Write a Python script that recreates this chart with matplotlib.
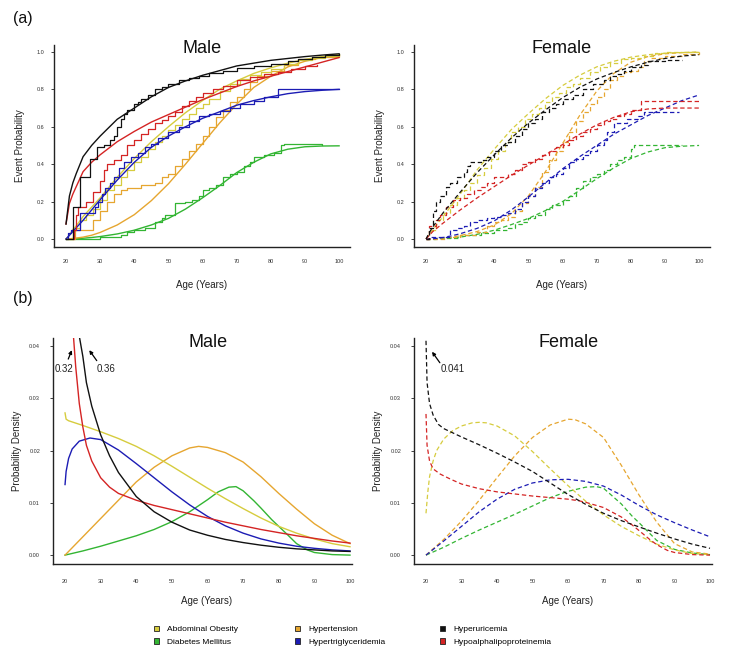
import numpy as np
import matplotlib.pyplot as plt
from matplotlib.patches import Patch

plt.rcParams['font.family'] = ['Liberation Sans', 'DejaVu Sans']

W, H = 733, 657

names = ['Abdominal Obesity', 'Diabetes Mellitus', 'Hypertension',
         'Hypertriglyceridemia', 'Hyperuricemia', 'Hypoalphalipoproteinemia']
colors = {'Abdominal Obesity': '#d6cc3e', 'Hypertension': '#e6a630',
          'Diabetes Mellitus': '#33b533', 'Hypertriglyceridemia': '#1c1cb4',
          'Hyperuricemia': '#111111', 'Hypoalphalipoproteinemia': '#d42424'}

# ---------- (a) fitted cumulative curves, common age grid ----------
age_grid = [20, 21, 22, 23, 25, 27.5, 30, 35, 40, 45, 50, 55, 60, 65, 70, 75, 80, 85, 90, 95, 100]

male_fit = {
    'Hyperuricemia': [0.08, 0.23, 0.30, 0.35, 0.44, 0.50, 0.55, 0.64, 0.70, 0.76, 0.81, 0.845, 0.875, 0.90, 0.925, 0.94, 0.955, 0.965, 0.975, 0.983, 0.99],
    'Hypoalphalipoproteinemia': [0.08, 0.19, 0.24, 0.28, 0.36, 0.41, 0.45, 0.52, 0.575, 0.625, 0.665, 0.705, 0.745, 0.78, 0.815, 0.845, 0.87, 0.895, 0.92, 0.945, 0.97],
    'Abdominal Obesity': [0, 0.02, 0.05, 0.07, 0.12, 0.17, 0.22, 0.33, 0.43, 0.52, 0.60, 0.675, 0.74, 0.80, 0.845, 0.885, 0.915, 0.94, 0.96, 0.975, 0.985],
    'Hypertriglyceridemia': [0, 0.02, 0.04, 0.06, 0.10, 0.155, 0.21, 0.315, 0.41, 0.49, 0.55, 0.60, 0.645, 0.68, 0.715, 0.74, 0.76, 0.777, 0.788, 0.795, 0.80],
    'Hypertension': [0, 0.001, 0.003, 0.005, 0.01, 0.02, 0.035, 0.075, 0.13, 0.205, 0.295, 0.40, 0.51, 0.62, 0.72, 0.81, 0.87, 0.92, 0.95, 0.97, 0.98],
    'Diabetes Mellitus': [0, 0, 0.001, 0.002, 0.004, 0.008, 0.013, 0.027, 0.047, 0.075, 0.11, 0.16, 0.22, 0.285, 0.355, 0.41, 0.455, 0.48, 0.493, 0.497, 0.498],
}
female_fit = {
    'Abdominal Obesity': [0, 0.025, 0.05, 0.075, 0.12, 0.18, 0.24, 0.37, 0.48, 0.585, 0.67, 0.75, 0.82, 0.875, 0.92, 0.95, 0.972, 0.985, 0.993, 0.997, 1.0],
    'Hypertension': [0, 0, 0.001, 0.002, 0.005, 0.01, 0.018, 0.04, 0.075, 0.135, 0.23, 0.36, 0.51, 0.66, 0.79, 0.885, 0.945, 0.975, 0.99, 0.996, 0.998],
    'Hyperuricemia': [0, 0.035, 0.065, 0.09, 0.14, 0.195, 0.25, 0.355, 0.45, 0.54, 0.62, 0.69, 0.755, 0.81, 0.855, 0.89, 0.92, 0.945, 0.965, 0.978, 0.985],
    'Hypoalphalipoproteinemia': [0, 0.02, 0.04, 0.055, 0.085, 0.12, 0.155, 0.22, 0.28, 0.34, 0.395, 0.45, 0.505, 0.56, 0.61, 0.65, 0.68, 0.695, 0.70, 0.70, 0.70],
    'Hypertriglyceridemia': [0, 0, 0.001, 0.003, 0.008, 0.017, 0.028, 0.057, 0.097, 0.155, 0.225, 0.30, 0.375, 0.44, 0.50, 0.56, 0.61, 0.66, 0.70, 0.74, 0.77],
    'Diabetes Mellitus': [0, 0, 0, 0.001, 0.003, 0.006, 0.01, 0.025, 0.047, 0.077, 0.11, 0.152, 0.20, 0.26, 0.322, 0.38, 0.43, 0.465, 0.488, 0.496, 0.50],
}

# ---------- (a) observed step curves (age, probability) ----------
male_step = {
    'Hyperuricemia': ([20, 22, 24, 27, 29, 31, 33, 34, 35, 36, 37, 38, 40, 41, 42, 44, 46, 48, 50, 53, 56, 59, 62, 66, 70, 75, 80, 85, 88, 92, 96, 100],
                      [0, 0.17, 0.33, 0.43, 0.49, 0.5, 0.53, 0.55, 0.6, 0.64, 0.67, 0.69, 0.72, 0.73, 0.75, 0.77, 0.8, 0.81, 0.83, 0.85, 0.86, 0.87, 0.885, 0.9, 0.915, 0.925, 0.935, 0.95, 0.96, 0.975, 0.985, 0.99]),
    'Hypoalphalipoproteinemia': ([22, 22.3, 22.8, 23.5, 26, 28, 30, 31, 32, 34, 36, 38, 40, 42, 44, 46, 48, 50, 52, 54, 56, 58, 60, 63, 66, 70, 74, 78, 82, 86, 90, 93.5],
                                 [0, 0.05, 0.13, 0.17, 0.2, 0.25, 0.31, 0.37, 0.4, 0.42, 0.45, 0.5, 0.53, 0.56, 0.59, 0.62, 0.635, 0.66, 0.68, 0.71, 0.735, 0.76, 0.78, 0.8, 0.82, 0.85, 0.865, 0.88, 0.895, 0.91, 0.925, 0.93]),
    'Abdominal Obesity': ([20, 22, 24, 26, 28, 30, 32, 34, 36, 38, 40, 42, 44, 46, 48, 50, 52, 54, 56, 58, 60, 62, 65, 68, 71, 74, 77, 80, 84, 88, 92, 96, 100],
                          [0, 0.06, 0.1, 0.13, 0.16, 0.21, 0.26, 0.29, 0.33, 0.37, 0.41, 0.44, 0.48, 0.52, 0.55, 0.58, 0.61, 0.64, 0.67, 0.7, 0.72, 0.75, 0.79, 0.83, 0.855, 0.875, 0.89, 0.91, 0.935, 0.955, 0.97, 0.98, 0.99]),
    'Hypertension': ([20, 22.5, 28, 30, 32, 34, 36, 38, 42, 46, 48, 50, 52, 54, 56, 58, 60, 62, 64, 66, 68, 70, 72, 74, 76, 80, 84, 88, 93, 100],
                     [0, 0.05, 0.1, 0.15, 0.2, 0.24, 0.26, 0.27, 0.29, 0.3, 0.33, 0.35, 0.39, 0.43, 0.47, 0.51, 0.55, 0.6, 0.65, 0.69, 0.73, 0.76, 0.8, 0.84, 0.87, 0.9, 0.93, 0.96, 0.975, 0.985]),
    'Hypertriglyceridemia': ([20, 20.5, 21.5, 24, 28.5, 29.5, 30.5, 31.5, 33, 34, 35.5, 37, 39, 41, 43, 45, 47, 50, 53, 56, 59, 62, 65, 68, 71, 75, 78, 82, 100],
                             [0, 0.03, 0.05, 0.14, 0.17, 0.2, 0.24, 0.27, 0.3, 0.33, 0.38, 0.41, 0.44, 0.46, 0.49, 0.51, 0.54, 0.57, 0.6, 0.63, 0.655, 0.67, 0.685, 0.7, 0.72, 0.74, 0.76, 0.8, 0.8]),
    'Diabetes Mellitus': ([20, 30, 36, 38, 40, 43, 46, 48, 49, 52, 55, 57, 59, 60, 62, 64, 66, 68, 70, 72, 74, 75, 78, 81, 83, 84, 95],
                          [0, 0.01, 0.02, 0.04, 0.05, 0.06, 0.09, 0.11, 0.13, 0.19, 0.2, 0.21, 0.23, 0.26, 0.27, 0.29, 0.33, 0.35, 0.36, 0.39, 0.41, 0.44, 0.45, 0.46, 0.5, 0.51, 0.5]),
}
female_step = {
    'Hyperuricemia': ([20, 21, 22, 23, 24, 26, 27, 29, 31, 32, 33, 36, 38, 40, 42, 44, 46, 48, 50, 52, 54, 56, 58, 60, 63, 66, 69, 72, 74, 76, 78, 80, 83, 85, 90, 95],
                      [0, 0.06, 0.15, 0.2, 0.23, 0.28, 0.3, 0.33, 0.36, 0.39, 0.41, 0.42, 0.44, 0.47, 0.5, 0.52, 0.55, 0.59, 0.62, 0.64, 0.68, 0.7, 0.72, 0.75, 0.77, 0.8, 0.83, 0.85, 0.87, 0.88, 0.9, 0.92, 0.93, 0.95, 0.955, 0.955]),
    'Hypoalphalipoproteinemia': ([20, 21, 23, 24, 26, 28, 30, 32, 34, 36, 38, 40, 42, 44, 46, 48, 50, 52, 54, 56, 58, 60, 62, 64, 66, 68, 70, 72, 74, 76, 78, 80, 83, 100],
                                 [0, 0.07, 0.1, 0.13, 0.17, 0.21, 0.22, 0.24, 0.26, 0.28, 0.3, 0.33, 0.33, 0.35, 0.37, 0.4, 0.41, 0.43, 0.45, 0.47, 0.49, 0.5, 0.53, 0.55, 0.57, 0.59, 0.61, 0.63, 0.64, 0.66, 0.67, 0.69, 0.74, 0.74]),
    'Hypertriglyceridemia': ([20, 21, 27, 29, 31, 33, 35, 38, 40, 42, 44, 46, 48, 50, 52, 54, 56, 58, 60, 62, 64, 66, 68, 70, 72, 73, 75, 77, 79, 82, 84, 94],
                             [0, 0.01, 0.05, 0.06, 0.07, 0.09, 0.1, 0.11, 0.12, 0.13, 0.14, 0.16, 0.2, 0.23, 0.27, 0.3, 0.33, 0.35, 0.38, 0.41, 0.43, 0.45, 0.47, 0.5, 0.53, 0.57, 0.62, 0.62, 0.64, 0.66, 0.68, 0.68]),
    'Diabetes Mellitus': ([20, 23, 30, 36, 40, 44, 46, 48, 50, 52, 55, 57, 60, 62, 64, 66, 68, 70, 72, 74, 76, 78, 80, 81, 95],
                          [0, 0.005, 0.02, 0.03, 0.05, 0.06, 0.08, 0.09, 0.11, 0.13, 0.16, 0.18, 0.21, 0.23, 0.27, 0.31, 0.33, 0.35, 0.37, 0.4, 0.42, 0.44, 0.48, 0.5, 0.5]),
    'Abdominal Obesity': ([20, 21, 23, 25, 27, 29, 31, 33, 35, 37, 39, 41, 43, 45, 47, 49, 51, 53, 55, 57, 59, 61, 63, 65, 68, 71, 74, 77, 80, 84, 87, 90, 100],
                          [0, 0.05, 0.1, 0.14, 0.18, 0.22, 0.26, 0.3, 0.34, 0.38, 0.43, 0.47, 0.52, 0.57, 0.6, 0.64, 0.67, 0.7, 0.73, 0.76, 0.78, 0.81, 0.83, 0.86, 0.89, 0.92, 0.94, 0.96, 0.97, 0.98, 0.995, 1.0, 1.0]),
    'Hypertension': ([20, 26, 30, 35, 38, 40, 42, 44, 46, 48, 50, 52, 54, 56, 58, 60, 62, 64, 66, 68, 70, 72, 74, 76, 78, 80, 82, 84, 86, 90, 95, 100],
                     [0, 0.01, 0.02, 0.04, 0.07, 0.09, 0.1, 0.12, 0.15, 0.19, 0.23, 0.28, 0.36, 0.42, 0.47, 0.52, 0.57, 0.63, 0.68, 0.72, 0.76, 0.8, 0.85, 0.87, 0.89, 0.9, 0.92, 0.95, 0.97, 0.98, 0.99, 1.0]),
}

# ---------- (b) probability densities (age, density) ----------
male_pdf = {
    'Hyperuricemia': ([24.1, 25, 26, 27.5, 30, 32.5, 35, 40, 45, 50, 55, 60, 65, 70, 75, 80, 85, 90, 95, 100],
                      [0.0415, 0.038, 0.033, 0.0285, 0.023, 0.019, 0.0158, 0.0112, 0.0083, 0.0063, 0.0048, 0.0038, 0.003, 0.0024, 0.0019, 0.0015, 0.0012, 0.001, 0.0008, 0.0007]),
    'Hypoalphalipoproteinemia': ([22.4, 23, 24, 25, 26, 27.5, 30, 32.5, 35, 40, 45, 50, 55, 60, 65, 70, 75, 80, 85, 90, 95, 100],
                                 [0.0415, 0.036, 0.029, 0.0245, 0.021, 0.018, 0.0148, 0.013, 0.0118, 0.0105, 0.0095, 0.0087, 0.0079, 0.0071, 0.0063, 0.0056, 0.0049, 0.0043, 0.0037, 0.0032, 0.0027, 0.0023]),
    'Hypertriglyceridemia': ([20, 20.3, 21, 22, 24, 27, 30, 35, 40, 45, 50, 55, 60, 65, 70, 75, 80, 85, 90, 95, 100],
                             [0.0135, 0.016, 0.0185, 0.0203, 0.0218, 0.0224, 0.0221, 0.0201, 0.0175, 0.0148, 0.0121, 0.0096, 0.0074, 0.0056, 0.0042, 0.0031, 0.0023, 0.0017, 0.0013, 0.001, 0.0008]),
    'Abdominal Obesity': ([20, 20.3, 21, 25, 30, 35, 40, 45, 50, 55, 60, 65, 70, 75, 80, 85, 90, 95, 100],
                          [0.0272, 0.026, 0.0257, 0.0248, 0.0236, 0.0223, 0.0208, 0.019, 0.017, 0.0149, 0.0128, 0.0108, 0.0089, 0.0071, 0.0055, 0.0042, 0.0031, 0.0022, 0.0016]),
    'Hypertension': ([20, 25, 30, 35, 40, 45, 50, 55, 57.5, 60, 65, 70, 75, 80, 85, 90, 95, 100],
                     [0, 0.0035, 0.007, 0.0105, 0.014, 0.0168, 0.019, 0.0205, 0.0208, 0.0206, 0.0196, 0.0178, 0.015, 0.0118, 0.0088, 0.006, 0.0038, 0.0022]),
    'Diabetes Mellitus': ([20, 25, 30, 35, 40, 45, 50, 55, 60, 63, 66, 68, 70, 73, 75, 78, 80, 82, 85, 88, 90, 95, 100],
                          [0, 0.0008, 0.0017, 0.0027, 0.0037, 0.0049, 0.0064, 0.0083, 0.0106, 0.0121, 0.013, 0.0131, 0.0123, 0.0104, 0.009, 0.0068, 0.0055, 0.0042, 0.0022, 0.001, 0.0005, 0.0001, 0.0]),
}
female_pdf = {
    'Hyperuricemia': ([20, 20.3, 21, 22, 23.5, 25, 27.5, 30, 35, 40, 45, 50, 55, 60, 65, 70, 75, 80, 85, 90, 95, 100],
                      [0.041, 0.033, 0.029, 0.0268, 0.025, 0.0242, 0.0234, 0.0226, 0.0211, 0.0195, 0.0178, 0.016, 0.0138, 0.0116, 0.0097, 0.008, 0.0066, 0.0054, 0.0042, 0.0031, 0.0021, 0.0013]),
    'Hypoalphalipoproteinemia': ([20, 20.3, 21, 22, 24, 27, 30, 35, 40, 45, 50, 55, 60, 63, 65, 70, 75, 78, 80, 83, 85, 88, 90, 95, 100],
                                 [0.027, 0.021, 0.018, 0.0165, 0.0155, 0.0145, 0.0136, 0.0127, 0.0121, 0.0117, 0.0113, 0.011, 0.0107, 0.0104, 0.0101, 0.0091, 0.0073, 0.0058, 0.0047, 0.003, 0.002, 0.0009, 0.0005, 0.0001, 0.0]),
    'Abdominal Obesity': ([20, 20.5, 21, 22, 23, 25, 27.5, 30, 33, 35, 37, 40, 45, 50, 55, 60, 65, 70, 75, 80, 85, 90, 95, 100],
                          [0.008, 0.012, 0.015, 0.018, 0.02, 0.0222, 0.0238, 0.0247, 0.0253, 0.0254, 0.0253, 0.0247, 0.0228, 0.0198, 0.0165, 0.0133, 0.0103, 0.0077, 0.0055, 0.0037, 0.0021, 0.001, 0.0003, 0.0001]),
    'Hypertension': ([20, 25, 30, 35, 40, 45, 50, 55, 60, 62, 65, 70, 75, 80, 85, 90, 95, 100],
                     [0, 0.003, 0.0065, 0.0105, 0.0148, 0.019, 0.0225, 0.0249, 0.026, 0.0259, 0.0251, 0.0225, 0.0172, 0.0115, 0.0063, 0.0022, 0.0006, 0.0002]),
    'Hypertriglyceridemia': ([20, 25, 30, 35, 40, 45, 50, 55, 60, 65, 70, 75, 80, 85, 90, 95, 100],
                             [0, 0.0027, 0.0055, 0.0083, 0.0107, 0.0126, 0.0138, 0.0144, 0.0145, 0.0141, 0.0132, 0.0115, 0.0095, 0.0077, 0.0062, 0.0048, 0.0035]),
    'Diabetes Mellitus': ([20, 25, 30, 35, 40, 45, 50, 55, 60, 65, 68, 70, 75, 78, 80, 85, 90, 95, 100],
                          [0, 0.0015, 0.0032, 0.0048, 0.0063, 0.0078, 0.0094, 0.011, 0.0122, 0.013, 0.0131, 0.0128, 0.0098, 0.0075, 0.0062, 0.0028, 0.0011, 0.0004, 0.0001]),
}

# peak-value labels on (b): (text, text age, text y, arrow tail, arrow head)
male_peaks = [('0.32', 19.8, 0.0356, (20.9, 0.0375), (21.9, 0.0392)),
              ('0.36', 31.5, 0.0356, (28.9, 0.0372), (26.8, 0.0392))]
female_peaks = [('0.041', 27.4, 0.0356, (23.9, 0.0368), (21.7, 0.0389))]

draw_order = ['Diabetes Mellitus', 'Hypertension', 'Abdominal Obesity',
              'Hypertriglyceridemia', 'Hypoalphalipoproteinemia', 'Hyperuricemia']
DASH = (0, (3.5, 2.2))


def add_ax(fig, left, top, right, bottom):
    return fig.add_axes([left / W, 1 - bottom / H, (right - left) / W, (bottom - top) / H])


def style(ax, xlim, ylim, yticks, yfmt, xpad, ypad):
    for s in ['top', 'right']:
        ax.spines[s].set_visible(False)
    for s in ['left', 'bottom']:
        ax.spines[s].set_linewidth(1.0)
        ax.spines[s].set_color('#222222')
    ax.set_xlim(*xlim)
    ax.set_ylim(*ylim)
    ax.set_xticks(range(20, 101, 10))
    ax.set_yticks(yticks)
    ax.set_yticklabels([yfmt % v for v in yticks])
    ax.tick_params(axis='x', length=0, pad=xpad, labelsize=4, labelcolor='#333333')
    ax.tick_params(axis='y', length=2, width=0.6, pad=ypad, labelsize=4, labelcolor='#333333', color='#222222')


fig = plt.figure(figsize=(W / 100, H / 100), dpi=100)

ax1 = add_ax(fig, 54, 45, 350, 247)
ax2 = add_ax(fig, 414, 45, 710, 247)
ax3 = add_ax(fig, 53, 338, 352, 564)
ax4 = add_ax(fig, 414, 338, 712, 564)

for ax in (ax1, ax2):
    style(ax, (16.48, 103.2), (-0.0428, 1.037), [0, 0.2, 0.4, 0.6, 0.8, 1.0], '%.1f', 9, 5)
for ax in (ax3, ax4):
    style(ax, (16.62, 100.56), (-0.0017, 0.04153), [0, 0.01, 0.02, 0.03, 0.04], '%.2f', 10.5, 7.3)
ax4.set_xlim(16.62, 100.56)

# (a) Male: solid
for n in draw_order:
    sx, sy = male_step[n]
    ax1.plot(sx, sy, drawstyle='steps-post', color=colors[n], lw=0.9)
    ax1.plot(age_grid, male_fit[n], color=colors[n], lw=1.0)
# (a) Female: dashed
for n in draw_order:
    sx, sy = female_step[n]
    ax2.plot(sx, sy, drawstyle='steps-post', color=colors[n], lw=0.9, linestyle=DASH)
    ax2.plot(age_grid, female_fit[n], color=colors[n], lw=0.9, linestyle=DASH)
# (b)
for n in draw_order:
    x, y = male_pdf[n]
    ax3.plot(x, y, color=colors[n], lw=1.0, clip_on=True)
    x, y = female_pdf[n]
    ax4.plot(x, y, color=colors[n], lw=0.9, linestyle=DASH)

for ax, peaks in ((ax3, male_peaks), (ax4, female_peaks)):
    for txt, tx, ty, tail, head in peaks:
        ax.text(tx, ty, txt, ha='center', va='center', fontsize=7, color='#222222')
        ax.annotate('', xy=head, xytext=tail,
                    arrowprops=dict(arrowstyle='-|>', color='k', lw=0.9,
                                    mutation_scale=5, shrinkA=0, shrinkB=0))

for ax, title, tx in ((ax1, 'Male', 0.5), (ax2, 'Female', 0.5), (ax3, 'Male', 0.518), (ax4, 'Female', 0.517)):
    ax.text(tx, 0.985 if ax in (ax1, ax2) else 0.982, title, transform=ax.transAxes,
            ha='center', va='center', fontsize=13, color='#111111')

for ax, lab in ((ax1, 'Event Probability'), (ax2, 'Event Probability'),
                (ax3, 'Probability Density'), (ax4, 'Probability Density')):
    ax.set_ylabel(lab, fontsize=7, color='#222222')
    ax.set_xlabel('Age (Years)', fontsize=7, color='#222222')
    ax.yaxis.label.set_va('center')
    ax.xaxis.label.set_va('center')

ax1.yaxis.set_label_coords((20 - 54) / 296, 0.5)
ax2.yaxis.set_label_coords((380 - 414) / 296, 0.5)
ax1.xaxis.set_label_coords(0.5, (247 - 285) / 202)
ax2.xaxis.set_label_coords(0.5, (247 - 285) / 202)
ax3.yaxis.set_label_coords((17 - 53) / 299, 0.5)
ax4.yaxis.set_label_coords((378 - 414) / 298, 0.5)
ax3.xaxis.set_label_coords(0.515, (564 - 601) / 226)
ax4.xaxis.set_label_coords(0.515, (564 - 601) / 226)

fig.text(23 / W, 1 - 19 / H, '(a)', fontsize=11.5, ha='center', va='center', color='#111111')
fig.text(23 / W, 1 - 298 / H, '(b)', fontsize=11.5, ha='center', va='center', color='#111111')

# legend: three columns of two entries
legend_cols = [(['Abdominal Obesity', 'Diabetes Mellitus'], 154),
               (['Hypertension', 'Hypertriglyceridemia'], 295),
               (['Hyperuricemia', 'Hypoalphalipoproteinemia'], 440)]
for labels, xpix in legend_cols:
    handles = [Patch(facecolor=colors[n], edgecolor='#222222', linewidth=0.6) for n in labels]
    fig.legend(handles, labels, loc='upper left', bbox_to_anchor=(xpix / W, 1 - 625.5 / H),
               frameon=False, fontsize=6, handlelength=0.65, handleheight=0.65,
               handletextpad=0.9, labelspacing=0.6, borderpad=0, borderaxespad=0)

fig.savefig('out.png', dpi=100)
